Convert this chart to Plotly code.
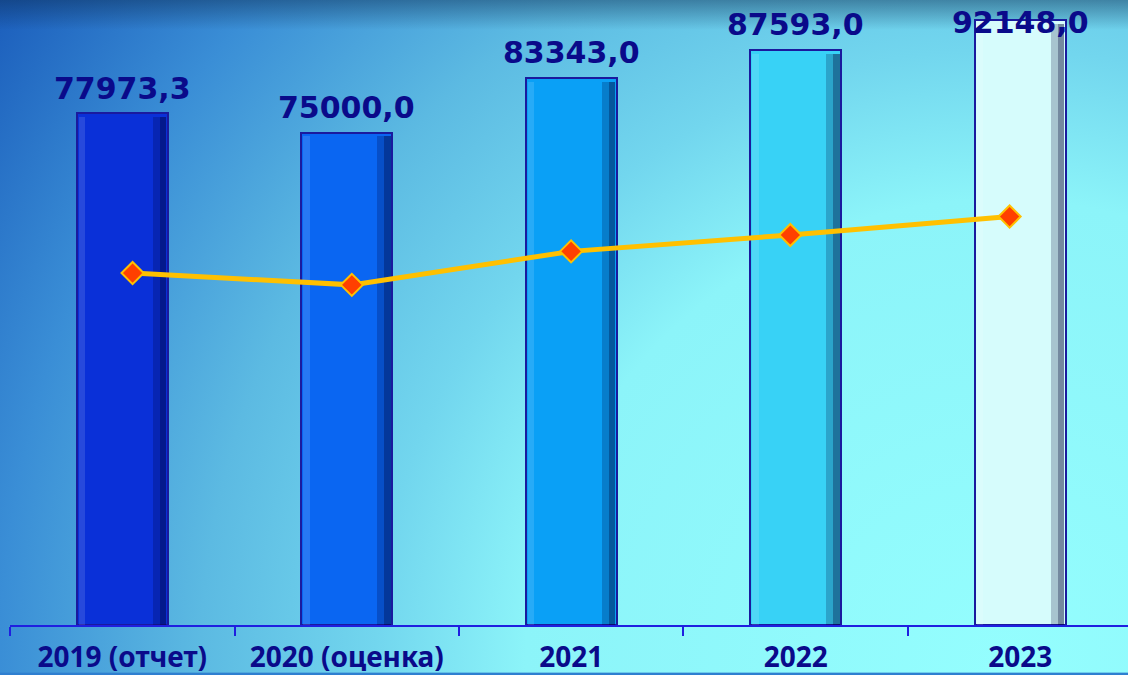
import base64
import plotly.graph_objects as go

categories = ["2019 (отчет)", "2020 (оценка)", "2021", "2022", "2023"]
bar_values = [77973.3, 75000.0, 83343.0, 87593.0, 92148.0]
bar_labels = ["77973,3", "75000,0", "83343,0", "87593,0", "92148,0"]
line_values = [53600, 51800, 56900, 59400, 62200]

bar_colors = ["#0a30d8", "#0a66f2", "#0aa0f6", "#38d2f6", "#d6fcfc"]
label_color = "#0a0a8a"

W, H = 1128, 675
ML, MR, MT, MB = 10, 0, 0, 48
YMAX = 95184
LABEL_CAP = 88000  # labels clamp to stay inside the chart area

# background gradient as an SVG image
svg = f"""<svg xmlns='http://www.w3.org/2000/svg' width='{W}' height='{H}' viewBox='0 0 {W} {H}'>
<defs>
<radialGradient id='g' gradientUnits='userSpaceOnUse' cx='1000' cy='675' r='1250'>
<stop offset='0' stop-color='#94fefe'/>
<stop offset='0.38' stop-color='#8cf4f9'/>
<stop offset='0.5' stop-color='#72d6ee'/>
<stop offset='0.64' stop-color='#5cbae2'/>
<stop offset='0.8' stop-color='#3a8ed6'/>
<stop offset='0.95' stop-color='#1e62be'/>
<stop offset='1' stop-color='#1858b8'/>
</radialGradient>
<linearGradient id='t' x1='0' y1='0' x2='0' y2='1'>
<stop offset='0' stop-color='#0a2a50' stop-opacity='0.45'/>
<stop offset='1' stop-color='#0a2a50' stop-opacity='0'/>
</linearGradient>
</defs>
<rect width='{W}' height='{H}' fill='url(#g)'/>
<rect width='{W}' height='30' fill='url(#t)'/>
</svg>"""
src = "data:image/svg+xml;base64," + base64.b64encode(svg.encode()).decode()

pw = W - ML - MR
ph = H - MT - MB

BW = 0.405
fig = go.Figure()
fig.add_trace(go.Bar(
    x=categories, y=bar_values, width=BW,
    marker=dict(color=bar_colors, line=dict(color="#1a1a9e", width=2)),
    hoverinfo="skip", showlegend=False,
))
# right-side shading strips for a bevel look
fig.add_trace(go.Bar(
    x=categories, y=[v * 0.993 for v in bar_values], width=0.06,
    offset=BW / 2 - 0.066,
    marker=dict(color="rgba(0,0,50,0.22)", line=dict(width=0)),
    hoverinfo="skip", showlegend=False,
))
fig.add_trace(go.Bar(
    x=categories, y=[v * 0.993 for v in bar_values], width=0.03,
    offset=BW / 2 - 0.036,
    marker=dict(color="rgba(0,0,50,0.3)", line=dict(width=0)),
    hoverinfo="skip", showlegend=False,
))
# left-side subtle highlight
fig.add_trace(go.Bar(
    x=categories, y=[v * 0.993 for v in bar_values], width=0.03,
    offset=-BW / 2 + 0.008,
    marker=dict(color="rgba(255,255,255,0.12)", line=dict(width=0)),
    hoverinfo="skip", showlegend=False,
))
fig.add_trace(go.Scatter(
    x=categories, y=line_values, xaxis="x2", mode="lines+markers",
    line=dict(color="#ffc000", width=5),
    marker=dict(symbol="diamond", size=17, color="#ff4000",
                line=dict(color="#ffc000", width=2)),
    hoverinfo="skip", showlegend=False,
))

for i, (v, t) in enumerate(zip(bar_values, bar_labels)):
    fig.add_annotation(
        x=i, y=min(v, LABEL_CAP), xref="x", yref="y", text=t, showarrow=False,
        yanchor="middle", yshift=25,
        font=dict(family="DejaVu Sans", size=30, color=label_color, weight="bold"),
    )

fig.update_layout(
    width=W, height=H,
    margin=dict(l=ML, r=MR, t=MT, b=MB),
    paper_bgcolor="#2f7fd0", plot_bgcolor="rgba(0,0,0,0)",
    barmode="overlay", bargap=0,
    images=[dict(source=src, xref="paper", yref="paper",
                 x=-ML / pw, y=1 + MT / ph, sizex=W / pw, sizey=H / ph,
                 xanchor="left", yanchor="top", sizing="stretch", layer="below")],
    xaxis=dict(type="category", categoryorder="array", categoryarray=categories,
               range=[-0.5, 4.48], showgrid=False, zeroline=False,
               showline=True, linecolor="#1f1fe0", linewidth=2,
               ticks="outside", tickson="boundaries", ticklen=9, tickwidth=2,
               tickcolor="#1f1fe0", ticklabelstandoff=6,
               tickfont=dict(family="Noto Sans", size=28,
                             color=label_color, weight="bold")),
    xaxis2=dict(type="category", categoryorder="array", categoryarray=categories,
                overlaying="x", range=[-0.559, 4.54], visible=False),
    yaxis=dict(range=[0, YMAX], visible=False, showgrid=False, zeroline=False),
)

fig.write_html("out.html", config={"displayModeBar": False},
               post_script="document.body.style.margin='0px';")
